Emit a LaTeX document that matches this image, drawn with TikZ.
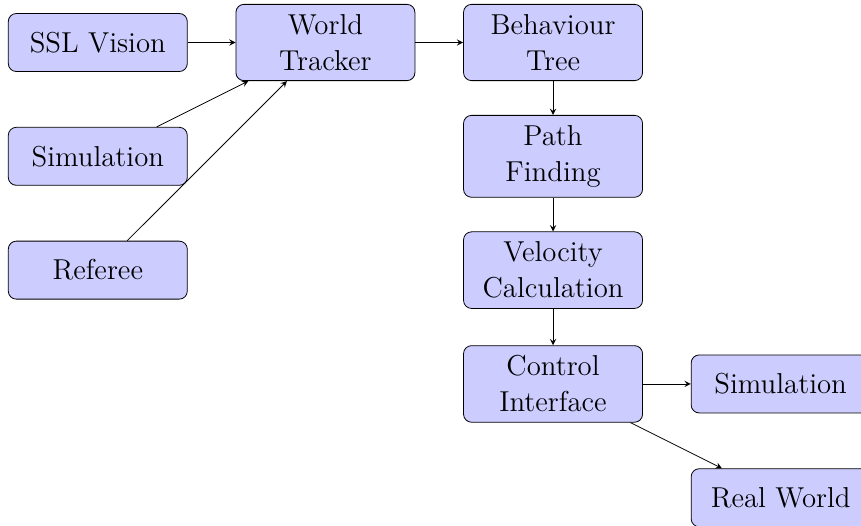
\documentclass[tikz,border=0pt]{standalone}
\begin{document}
\begin{tikzpicture}
[blockdecorate/.style={shape=rectangle,rounded corners,draw,fill=blue!20,
   inner sep=5pt,minimum width=89.5pt,minimum height=29pt,align=center,
   font=\Large},%
  arrowdecorate/.style={->,>=stealth}]
%%
\useasboundingbox (-48.9pt,21.25pt) rectangle ++(430.5pt,-262.5pt);
%% blocks
\foreach \nodename/\x/\y/\nodetext in {ssl/0/0/SSL Vision,
  simin/0/-2/Simulation, referee/0/-4/Referee,
  tracker/4/0/{World\\Tracker}, behaviour/8/0/{Behaviour\\Tree},
  path/8/-2/{Path\\Finding}, velocity/8/-4/{Velocity\\Calculation},
  control/8/-6/{Control\\Interface}, simout/12/-6/Simulation,
  realworld/12/-8/Real World} {
  \node (\nodename) at (\x,\y) [blockdecorate] {\nodetext};
}
%% connections
\path
\foreach \startnode/\endnode in {ssl/tracker, simin/tracker, referee/tracker,
  tracker/behaviour, behaviour/path, path/velocity, velocity/control,
  control/simout, control/realworld} {
  (\startnode) edge[arrowdecorate] (\endnode)
};
\end{tikzpicture}
\end{document}
